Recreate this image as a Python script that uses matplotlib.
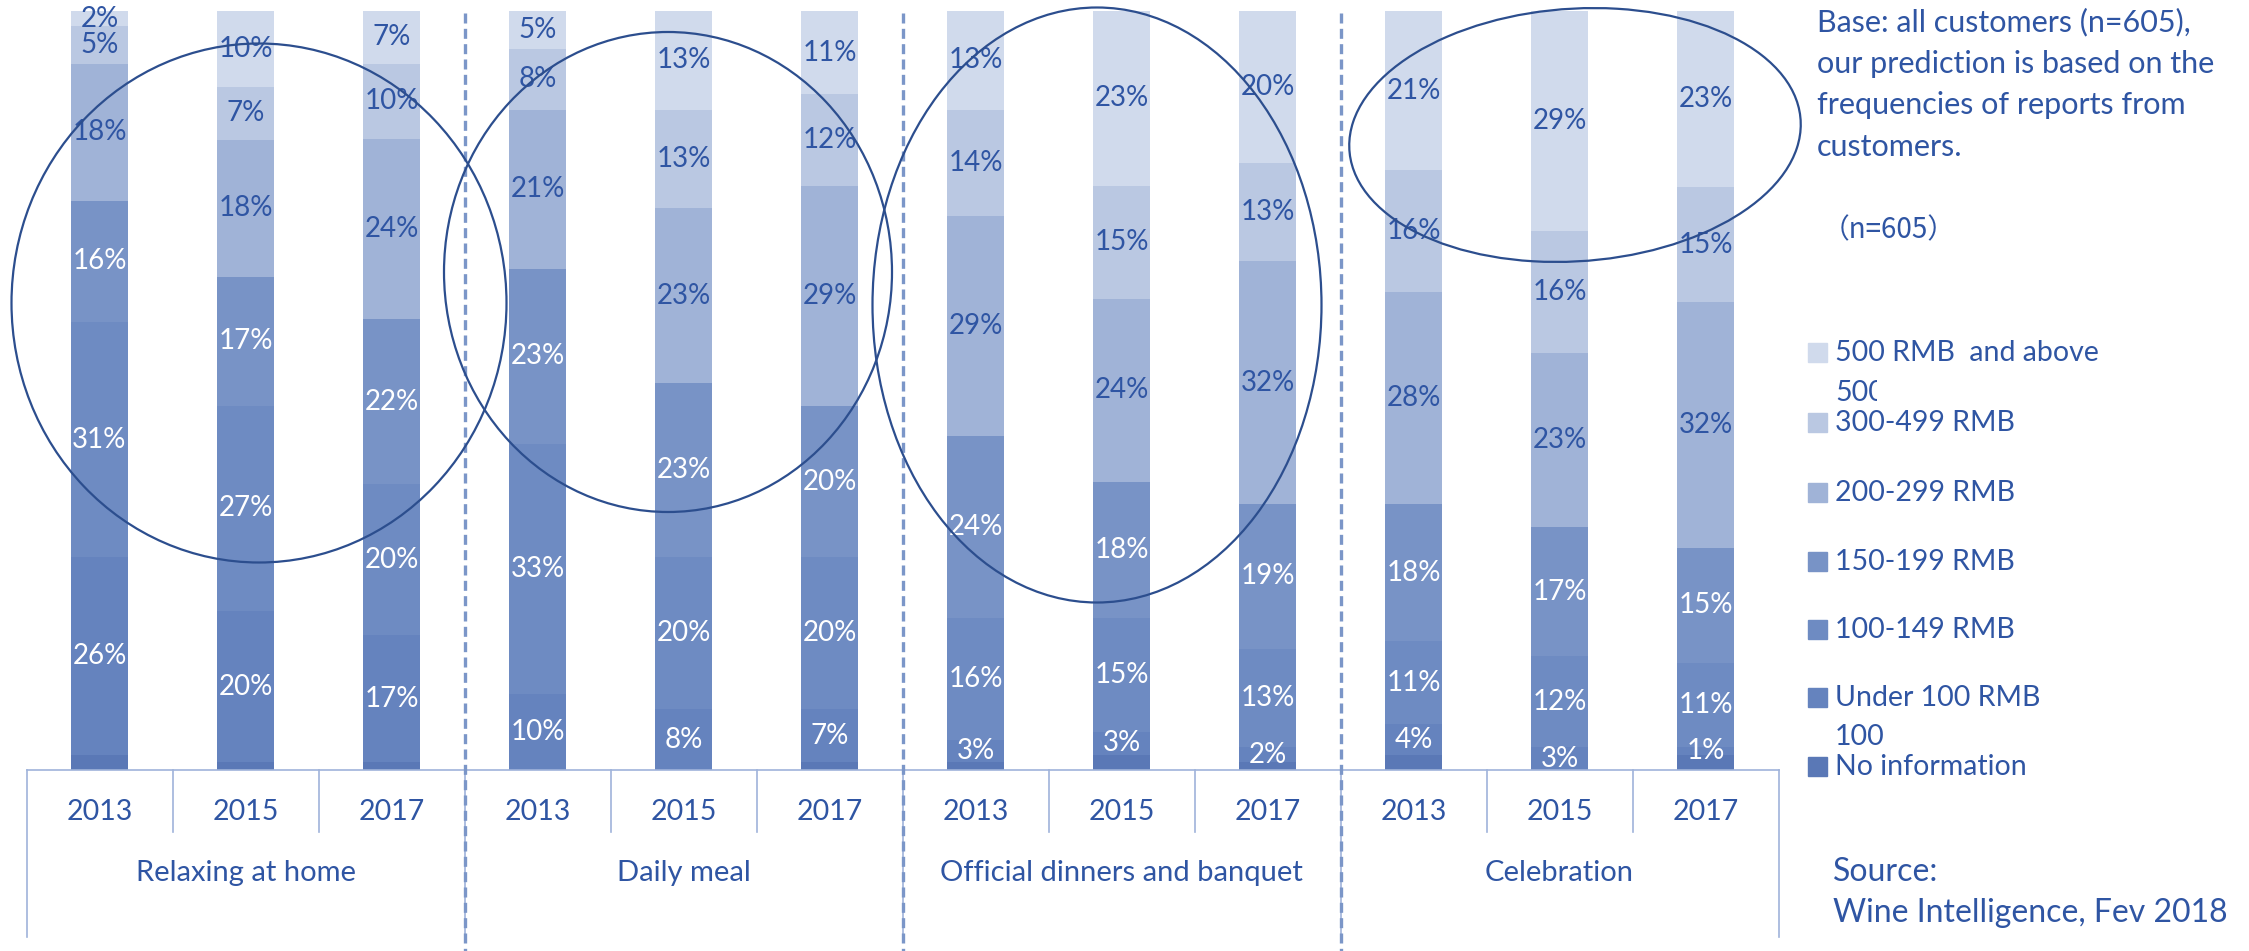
import matplotlib
matplotlib.use("Agg")
import matplotlib.pyplot as plt
import numpy as np
from matplotlib.patches import Ellipse, Rectangle
from matplotlib.transforms import Bbox

plt.rcParams["font.family"] = ["Lato", "DejaVu Sans"]

# ---- data -------------------------------------------------------------
groups = ["Relaxing at home", "Daily meal", "Official dinners and banquet", "Celebration"]
years = ["2013", "2015", "2017"]

# one value per bar, 12 bars (4 groups x 3 years), in %
no_info   = [2, 1, 1,   0, 0, 1,   1, 2, 1,   2, 0, 2]
under_100 = [26, 20, 17,  10, 8, 7,   3, 3, 2,   4, 3, 1]
r100_149  = [31, 27, 20,  33, 20, 20,  16, 15, 13,  11, 12, 11]
r150_199  = [16, 17, 22,  23, 23, 20,  24, 18, 19,  18, 17, 15]
r200_299  = [18, 18, 24,  21, 23, 29,  29, 24, 32,  28, 23, 32]
r300_499  = [5, 7, 10,   8, 13, 12,  14, 15, 13,  16, 16, 15]
r500_up   = [2, 10, 7,   5, 13, 11,  13, 23, 20,  21, 29, 23]

series = [no_info, under_100, r100_149, r150_199, r200_299, r300_499, r500_up]
series_names = ["No information", "Under 100 RMB", "100-149 RMB", "150-199 RMB",
                "200-299 RMB", "300-499 RMB", "500 RMB and above"]
colors = ["#5a78b6", "#6583be", "#6e8bc2", "#7893c6", "#a0b3d7", "#bac8e2", "#d0daec"]
label_white = [True, True, True, True, False, False, False]
show_label = [False, True, True, True, True, True, True]

TXT = "#2f55a3"
W, H = 2249, 951

fig = plt.figure(figsize=(W / 100, H / 100), dpi=100)
# axes in pixel coordinates: x 26.5..1778.5, y 11..770 (from top)
ax = fig.add_axes([26.5 / W, (H - 770) / H, 1752 / W, 759 / H])

vals = np.array(series, dtype=float)
totals = vals.sum(axis=0)
frac = vals / totals
x = np.arange(len(totals))
bottoms = np.zeros(len(totals))
for i, (row, c) in enumerate(zip(frac, colors)):
    ax.bar(x, row, bottom=bottoms, width=0.39, color=c, linewidth=0, zorder=2)
    if show_label[i]:
        for j in range(len(x)):
            if vals[i, j] <= 0:
                continue
            ax.text(x[j], bottoms[j] + row[j] / 2, f"{int(vals[i, j])}%",
                    ha="center", va="center", fontsize=20,
                    color="white" if label_white[i] else TXT, zorder=3)
    bottoms += row

ax.set_xlim(-0.5, len(x) - 0.5)
ax.set_ylim(0, 1)
ax.set_xticks([])
ax.set_yticks([])
for s in ["left", "right", "top"]:
    ax.spines[s].set_visible(False)
ax.spines["bottom"].set_color("#9fb3da")
ax.spines["bottom"].set_linewidth(1.2)

px = 1 / 759  # one pixel in axes-y fraction
tr = ax.get_xaxis_transform()
line_c = "#9fb3da"

# multi-level category axis
for k in range(len(x)):
    ax.text(x[k], -42 * px, years[k % 3], transform=tr, ha="center", va="center",
            fontsize=20.5, color=TXT)
    if k % 3 != 2:
        ax.plot([k + 0.5, k + 0.5], [0, -62 * px], transform=tr, color=line_c,
                lw=1.2, clip_on=False)
for g, name in enumerate(groups):
    ax.text(3 * g + 1, -103 * px, name, transform=tr, ha="center", va="center",
            fontsize=21, color=TXT)
for b in [-0.5, 2.5, 5.5, 8.5, 11.5]:
    ax.plot([b, b], [0, -167 * px], transform=tr, color=line_c, lw=1.2, clip_on=False)
for b in [2.5, 5.5, 8.5]:
    ax.plot([b, b], [757 * px, -181 * px], transform=tr, color="#7b96c8", lw=2.4,
            ls=(0, (3, 1.6)), clip_on=False, zorder=4)

# hand-drawn highlight ellipses (figure pixel coords, y from top)
def ellipse(cx, cy, w, h, ang=0):
    e = Ellipse((cx / W, 1 - cy / H), w / W, h / H, angle=ang, fill=False,
                edgecolor="#2c4e8e", lw=1.6, transform=fig.transFigure, zorder=10)
    fig.add_artist(e)

ellipse(259, 303, 495, 519)
ellipse(668, 272, 448, 480)
ellipse(1097, 305, 449, 595)
ellipse(1575, 135, 448, 255, -8)

# right-hand notes
note = ["Base: all customers (n=605),", "our prediction is based on the",
        "frequencies of reports from", "customers."]
for i, line in enumerate(note):
    fig.text(1817 / W, 1 - (22 + 41.5 * i) / H, line, ha="left", va="center",
             fontsize=22, color=TXT)
fig.text(1822 / W, 1 - 230 / H, "（n=605）", ha="left", va="center", fontsize=20,
         color=TXT, family=["Noto Sans CJK SC", "DejaVu Sans"])

# legend
leg_y = {"500 RMB and above": 353, "300-499 RMB": 423, "200-299 RMB": 493,
         "150-199 RMB": 562, "100-149 RMB": 630, "Under 100 RMB": 698,
         "No information": 767}
for name, c in zip(series_names, colors):
    yy = leg_y[name]
    label = "500 RMB  and above" if name.startswith("500") else name
    fig.add_artist(Rectangle((1808 / W, 1 - (yy + 9) / H), 19 / W, 19 / H,
                             color=c, transform=fig.transFigure))
    fig.text(1835 / W, 1 - yy / H, label, ha="left", va="center", fontsize=20.5, color=TXT)

# clipped ghost labels
for txt, yy, clipw in [("500", 393, 42), ("100", 737, 80)]:
    t = fig.text(1835 / W, 1 - yy / H, txt, ha="left", va="center", fontsize=20.5, color=TXT)
    t.set_clip_box(Bbox.from_bounds(1835, H - yy - 30, clipw, 60))
    t.set_clip_on(True)

fig.text(1833 / W, 1 - 872 / H, "Source:", ha="left", va="center", fontsize=23, color=TXT)
fig.text(1833 / W, 1 - 913 / H, "Wine Intelligence, Fev 2018", ha="left", va="center",
         fontsize=23, color=TXT)

fig.savefig("out.png", dpi=100, facecolor="white")
